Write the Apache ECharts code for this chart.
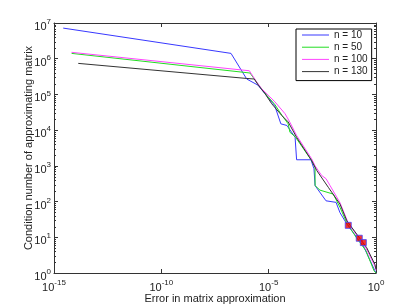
<!DOCTYPE html>
<html>
<head>
<meta charset="utf-8">
<script src="https://cdn.jsdelivr.net/npm/echarts@6/dist/echarts.min.js"></script>
<style>
html,body{margin:0;padding:0;background:#fff;}
#chart{width:415px;height:308px;}
</style>
</head>
<body>
<div id="chart"></div>
<script>
// ---- data ----
const seriesNames = ['n = 10', 'n = 50', 'n = 100', 'n = 130'];

const n10x = [2.69e-15, 1.76e-7, 9.5e-7, 3.16e-6, 1.9e-5, 3.7e-5, 7.1e-5, 1.7e-4, 2.0e-4, 9.3e-4, 1.29e-3, 1.45e-3, 4.7e-3, 1.38e-2, 2.1e-2, 4.4e-2, 0.126, 0.257, 0.89, 1];
const n10y = [7.2e6, 1.41e6, 2.7e5, 1.82e5, 4.9e4, 1.5e4, 1.35e4, 6.3e3, 1.48e3, 1.48e3, 830, 280, 105, 95, 49, 23.4, 10, 5.75, 1.15, 1];

const n50x = [6.6e-15, 1.35e-6, 3.98e-6, 8.1e-6, 1.95e-5, 4.2e-5, 8.1e-5, 9.8e-5, 1.7e-4, 1e-3, 1.45e-3, 1.45e-3, 2.45e-3, 1.02e-2, 2.1e-2, 4.4e-2, 0.126, 0.34, 0.81, 1];
const n50y = [1.41e6, 3.98e5, 1.62e5, 9.5e4, 5.2e4, 2.57e4, 1.5e4, 8.7e3, 6.6e3, 1.41e3, 910, 280, 209, 162, 69, 25, 9.5, 4.2, 1.15, 1];

const n100x = [6.6e-15, 1.26e-6, 2.75e-6, 4.7e-6, 1.15e-5, 1.95e-5, 5.75e-5, 9.8e-5, 2.0e-4, 1e-3, 1.45e-3, 2.95e-3, 4.7e-3, 7.2e-3, 2.1e-2, 5.0e-2, 0.145, 0.34, 0.89, 1];
const n100y = [1.51e6, 4.6e5, 2.24e5, 1.45e5, 8.5e4, 6.2e4, 2.9e4, 1.66e4, 7.1e3, 1.58e3, 1e3, 537, 437, 282, 93, 25.7, 10.2, 5.0, 1.58, 1.2];

const n130x = [1.35e-14, 9.5e-7, 2.14e-6, 3.3e-6, 6.8e-6, 1.38e-5, 4.1e-5, 8.1e-5, 2.0e-4, 1e-3, 1.74e-3, 6.0e-3, 2.1e-2, 4.4e-2, 0.126, 0.37, 0.89, 1];
const n130y = [7.4e5, 2.8e5, 2.7e5, 1.82e5, 1.05e5, 5.5e4, 2.57e4, 1.7e4, 6.3e3, 1.41e3, 741, 251, 85, 28.8, 12.3, 5.1, 1.74, 1.26];

const markX = [0.051, 0.166, 0.257];
const markY = [21.6, 9.4, 7.1];

const yMinorTicks = [2,3,4,5,6,7,8,9,20,30,40,50,60,70,80,90,200,300,400,500,600,700,800,900,
  2e3,3e3,4e3,5e3,6e3,7e3,8e3,9e3,2e4,3e4,4e4,5e4,6e4,7e4,8e4,9e4,2e5,3e5,4e5,5e5,6e5,7e5,8e5,9e5,
  2e6,3e6,4e6,5e6,6e6,7e6,8e6,9e6];

const xTitle = 'Error in matrix approximation';
const yTitle = 'Condition number of approximating matrix';

// ---- chart ----
function zip(xs, ys) { return xs.map((x, i) => [x, ys[i]]); }
const FONT = 'Liberation Sans, Arial, Helvetica, sans-serif';
const AX = '#333';
const TXT = '#222';

function powLabel(v) {
  const e = Math.round(Math.log10(v));
  return '{b|10}{e|' + e + '}';
}
const richLbl = {
  b: { fontSize: 11, fontFamily: FONT, color: TXT, lineHeight: 18, verticalAlign: 'middle' },
  e: { fontSize: 8, fontFamily: FONT, color: TXT, lineHeight: 8, padding: [0, 0, 10, 0], verticalAlign: 'middle' }
};

const colors = ['#3838ff', '#22dd22', '#ff44ff', '#333333'];
const xs = [n10x, n50x, n100x, n130x];
const ys = [n10y, n50y, n100y, n130y];

const lineSeries = seriesNames.map((name, i) => ({
  name: name,
  type: 'line',
  data: zip(xs[i], ys[i]),
  symbol: 'none',
  lineStyle: { color: colors[i], width: 1 },
  itemStyle: { color: colors[i] },
  z: 2 + i,
  animation: false
}));

const chart = echarts.init(document.getElementById('chart'), null, { renderer: 'canvas' });
chart.setOption({
  backgroundColor: '#fff',
  animation: false,
  grid: { left: 54, right: 39, top: 23, bottom: 35, outerBoundsMode: 'none' },
  legend: {
    data: seriesNames,
    icon: 'rect',
    orient: 'vertical',
    left: 296,
    top: 29,
    itemWidth: 27,
    itemHeight: 1,
    itemGap: 2.2,
    padding: [1, 4, 4, 6],
    borderColor: '#000',
    borderWidth: 1,
    backgroundColor: '#fff',
    textStyle: { fontSize: 10, fontFamily: FONT, color: TXT, lineHeight: 10 }
  },
  xAxis: [{
    type: 'log', logBase: 10, min: 1e-15, max: 1, interval: 5,
    name: xTitle, nameLocation: 'middle', nameGap: 20, nameMoveOverlap: false,
    nameTextStyle: { fontSize: 11, fontFamily: FONT, color: TXT },
    axisLine: { lineStyle: { color: AX, width: 1 } },
    axisTick: { inside: true, length: 4, lineStyle: { color: AX } },
    axisLabel: { formatter: powLabel, rich: richLbl, margin: 6 },
    splitLine: { show: false }, minorTick: { show: false }
  }, {
    type: 'log', logBase: 10, min: 1e-15, max: 1, interval: 5, position: 'top',
    axisLine: { lineStyle: { color: AX, width: 1 } },
    axisTick: { inside: true, length: 4, lineStyle: { color: AX } },
    axisLabel: { show: false }, splitLine: { show: false }
  }],
  yAxis: [{
    type: 'log', logBase: 10, min: 1, max: 1e7, interval: 1,
    name: yTitle, nameLocation: 'middle', nameGap: 20, nameMoveOverlap: false,
    nameTextStyle: { fontSize: 11, fontFamily: FONT, color: TXT },
    axisLine: { lineStyle: { color: AX, width: 1 } },
    axisTick: { inside: true, length: 4, lineStyle: { color: AX } },
    axisLabel: { formatter: powLabel, rich: richLbl, margin: 3, padding: [8, 0, 0, 0] },
    splitLine: { show: false }
  }, {
    type: 'log', logBase: 10, min: 1, max: 1e7, interval: 1, position: 'right',
    axisLine: { lineStyle: { color: AX, width: 1 } },
    axisTick: { inside: true, length: 4, lineStyle: { color: AX } },
    axisLabel: { show: false }, splitLine: { show: false }
  }],
  series: lineSeries.concat([{
    name: 'marks',
    type: 'scatter',
    data: zip(markX, markY),
    symbol: 'rect',
    symbolSize: 6,
    itemStyle: { color: '#ee0000', borderColor: '#4444ff', borderWidth: 1 },
    z: 10,
    animation: false
  }, {
    name: 'minorTicks',
    type: 'custom',
    data: yMinorTicks.map(v => [v]),
    encode: { y: 0 },
    xAxisIndex: 0, yAxisIndex: 0,
    silent: true,
    renderItem: function (params, api) {
      const y = api.coord([1e-15, api.value(0)])[1];
      const cs = params.coordSys;
      const st = { stroke: AX, lineWidth: 1 };
      const yy = Math.round(y) + 0.5;
      return { type: 'group', children: [
        { type: 'line', shape: { x1: cs.x, y1: yy, x2: cs.x + 2, y2: yy }, style: st },
        { type: 'line', shape: { x1: cs.x + cs.width - 2, y1: yy, x2: cs.x + cs.width, y2: yy }, style: st }
      ]};
    },
    z: 1,
    animation: false
  }])
});
</script>
</body>
</html>
